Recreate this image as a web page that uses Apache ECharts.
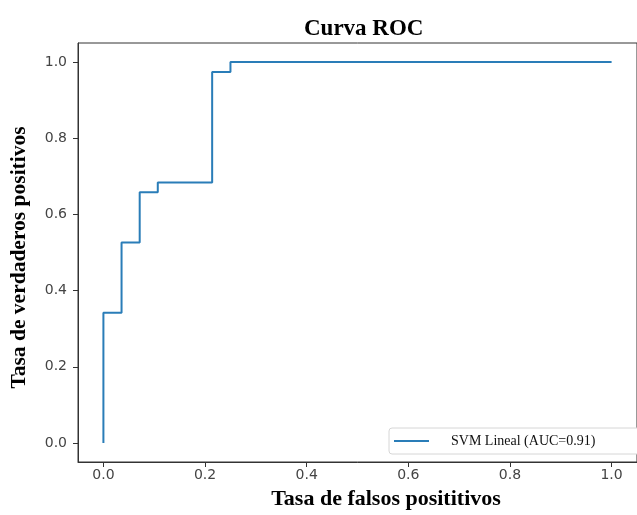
<!DOCTYPE html>
<html>
<head>
<meta charset="utf-8">
<script src="https://cdn.jsdelivr.net/npm/echarts@6/dist/echarts.min.js"></script>
<style>
  html, body { margin: 0; padding: 0; background: #fff; }
  #chartRoc { width: 637px; height: 515px; }
</style>
</head>
<body>
<div id="chartRoc"></div>
<script>
// ROC curve points (false positive rate / true positive rate)
const _FPR = [0, 0, 0.0357, 0.0357, 0.0714, 0.0714, 0.107, 0.107, 0.214, 0.214, 0.25, 0.25, 1.0];
const _TPR = [0, 0.342, 0.342, 0.526, 0.526, 0.658, 0.658, 0.684, 0.684, 0.974, 0.974, 1.0, 1.0];
const _TICKS = [0, 0.2, 0.4, 0.6, 0.8, 1.0];
const _SERIES_NAME = 'SVM Lineal (AUC=0.91)';

var myChart = echarts.init(document.getElementById('chartRoc'));

const points = _FPR.map((x, i) => [x, _TPR[i]]);

const axisCommon = {
  type: 'value',
  min: -0.05,
  max: 1.05,
  splitLine: { show: false },
  axisLine: { show: true, onZero: false, lineStyle: { color: '#333', width: 1 } },
  axisTick: { show: true, inside: false, length: 5, customValues: _TICKS, lineStyle: { color: '#333' } },
  axisLabel: {
    customValues: _TICKS,
    formatter: v => v.toFixed(1),
    color: '#444',
    fontFamily: 'DejaVu Sans',
    fontSize: 14
  },
  nameLocation: 'middle',
  nameTextStyle: {
    fontFamily: 'Liberation Serif',
    fontWeight: 'bold',
    fontSize: 22,
    color: '#000'
  }
};

myChart.setOption({
  animation: false,
  title: {
    text: 'Curva ROC',
    left: 299,
    top: 13,
    textStyle: {
      fontFamily: 'Liberation Serif',
      fontWeight: 'bold',
      fontSize: 23,
      color: '#000'
    }
  },
  grid: {
    left: 77,
    top: 43,
    width: 572,
    height: 422,
    show: true,
    borderColor: '#333',
    borderWidth: 1
  },
  legend: {
    left: 389,
    top: 428,
    padding: [6, 60, 6, 4],
    itemWidth: 35,
    itemHeight: 14,
    itemStyle: { opacity: 0 },
    backgroundColor: '#fff',
    borderColor: '#d6d6d6',
    borderWidth: 1,
    borderRadius: 3,
    textStyle: {
      fontFamily: 'Liberation Serif',
      fontSize: 14,
      color: '#111',
      padding: [0, 0, 0, 17]
    },
    data: [_SERIES_NAME]
  },
  xAxis: Object.assign({}, axisCommon, {
    name: 'Tasa de falsos posititivos',
    nameGap: 26,
    nameTextStyle: Object.assign({}, axisCommon.nameTextStyle, { padding: [0, 0, 0, 57] }),
    axisLabel: Object.assign({}, axisCommon.axisLabel, { margin: 6 })
  }),
  yAxis: Object.assign({}, axisCommon, {
    name: 'Tasa de verdaderos positivos',
    nameGap: 48,
    nameTextStyle: Object.assign({}, axisCommon.nameTextStyle, { fontSize: 21.5, padding: [0, 0, 0, -10] }),
    axisLabel: Object.assign({}, axisCommon.axisLabel, { margin: 11 })
  }),
  series: [
    {
      name: _SERIES_NAME,
      type: 'line',
      data: points,
      showSymbol: false,
      symbol: 'none',
      color: '#2a7db8',
      lineStyle: { width: 2, color: '#2a7db8' }
    }
  ]
});
</script>
</body>
</html>
